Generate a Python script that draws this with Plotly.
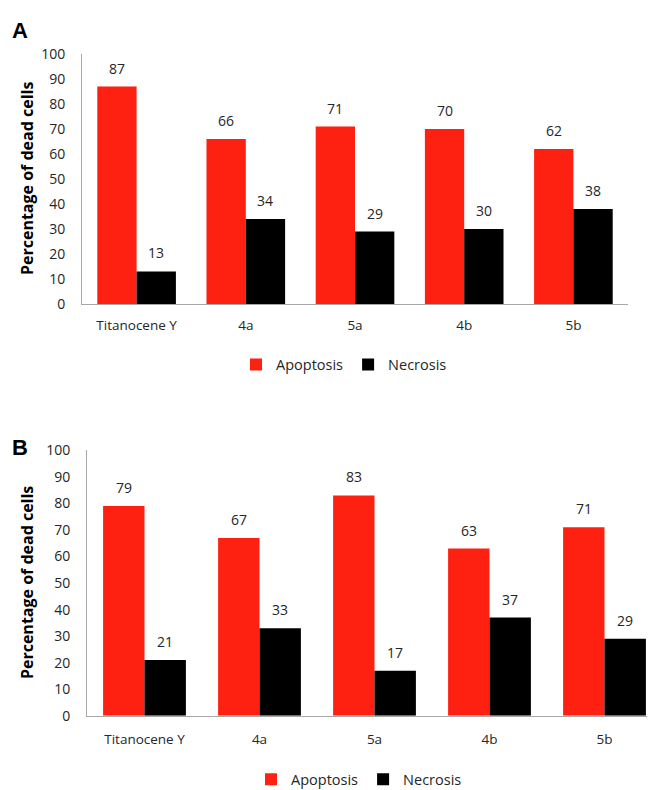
import plotly.graph_objects as go

# 数据
categories = ['Titanocene Y', '4a', '5a', '4b', '5b']
apoptosis_a = [87, 66, 71, 70, 62]
necrosis_a = [13, 34, 29, 30, 38]
apoptosis_b = [79, 67, 83, 63, 71]
necrosis_b = [21, 33, 17, 37, 29]
y_ticks = list(range(0, 101, 10))

RED = '#fe2010'
BLACK = '#000000'
TXT = '#262626'
FONT = 'Open Sans'
W, H = 655, 790
GAP = 0.28


def px_x(p):
    return p / W


def px_y(p):
    return 1 - p / H


fig = go.Figure()


def add_pair(apo, nec, xa, ya, legend):
    # 一组柱状图 (凋亡 / 坏死) + 数值标签
    off = (1 - GAP) / 4
    for name, vals, col, sgn in [('Apoptosis', apo, RED, -1), ('Necrosis', nec, BLACK, 1)]:
        fig.add_trace(go.Bar(
            x=categories, y=vals, name=name,
            marker_color=col, marker_line_width=0,
            xaxis=xa, yaxis=ya, legend=legend,
        ))
        for i, v in enumerate(vals):
            fig.add_annotation(x=i + sgn * off, y=v, xref=xa, yref=ya, text=str(v),
                               showarrow=False, yanchor='bottom', yshift=7,
                               font=dict(size=14, color=TXT, family=FONT))


add_pair(apoptosis_a, necrosis_a, 'x', 'y', 'legend')
add_pair(apoptosis_b, necrosis_b, 'x2', 'y2', 'legend2')

ax_common = dict(showgrid=False, zeroline=False, showline=True, linecolor='#a8a8a8',
                 linewidth=1, ticks='')
xfont = dict(size=13.5, color=TXT, family=FONT)
yfont = dict(size=14, color=TXT, family=FONT)
lfont = dict(size=14.5, color=TXT, family=FONT)

fig.update_layout(
    width=W, height=H, margin=dict(l=0, r=0, t=0, b=0),
    paper_bgcolor='white', plot_bgcolor='white',
    barmode='group', bargap=GAP, bargroupgap=0,
    xaxis=dict(domain=[px_x(74), px_x(620)], anchor='y', tickfont=xfont,
               ticklabelstandoff=9, **ax_common),
    yaxis=dict(domain=[px_y(293), px_y(37)], anchor='x', range=[0, 100],
               tickvals=y_ticks, ticklabelstandoff=13, tickfont=yfont, **ax_common),
    xaxis2=dict(domain=[px_x(79), px_x(654)], anchor='y2', tickfont=xfont,
                ticklabelstandoff=11, **ax_common),
    yaxis2=dict(domain=[px_y(715), px_y(443)], anchor='x2', range=[0, 100],
                tickvals=y_ticks, ticklabelstandoff=13, tickfont=yfont, **ax_common),
    legend=dict(orientation='h', x=px_x(336), xanchor='center', y=px_y(355), yanchor='middle',
                font=lfont, traceorder='normal', itemwidth=30),
    legend2=dict(orientation='h', x=px_x(351), xanchor='center', y=px_y(780), yanchor='middle',
                 font=lfont, traceorder='normal', itemwidth=30),
    showlegend=True,
)

# 面板标签和y轴标题
for label, ly, ty in [('A', 13, 165), ('B', 440, 579)]:
    fig.add_annotation(text=f'<b>{label}</b>', x=px_x(2), y=px_y(ly), xref='paper', yref='paper',
                       xanchor='left', yanchor='middle', showarrow=False,
                       font=dict(size=22, color='black', family='Liberation Sans'))
    fig.add_annotation(text='<b>Percentage of dead cells</b>', x=px_x(19), y=px_y(ty),
                       xref='paper', yref='paper', textangle=-90, showarrow=False,
                       xanchor='center', yanchor='middle',
                       font=dict(size=16, color='black', family=FONT))

fig.write_html('out.html')
